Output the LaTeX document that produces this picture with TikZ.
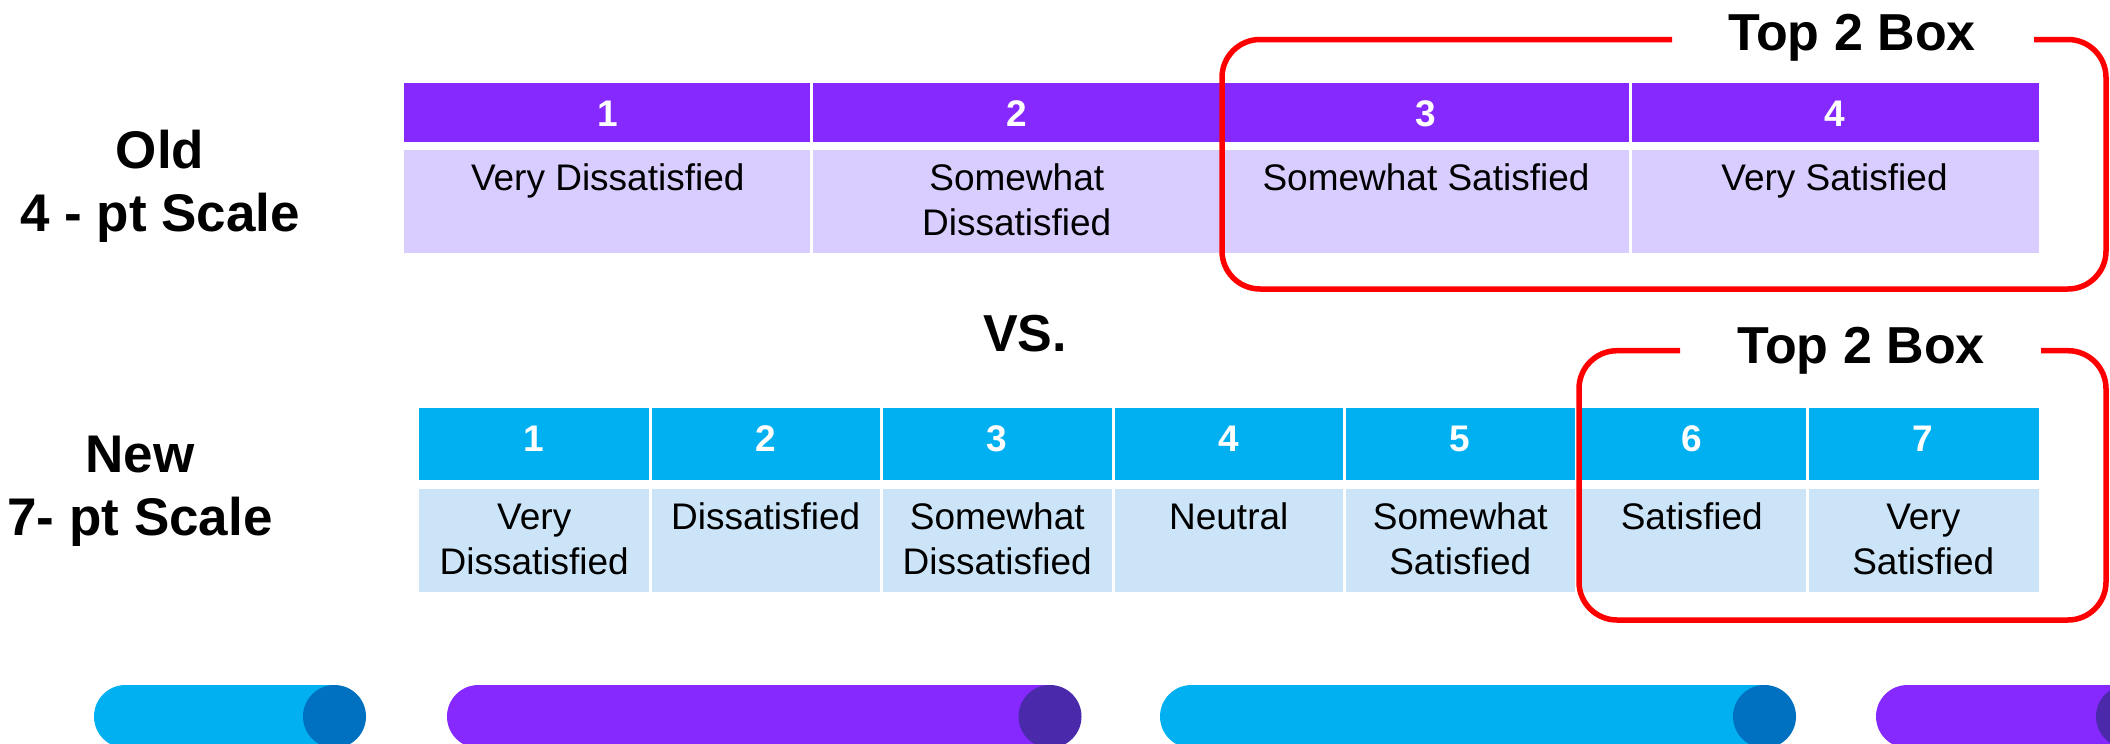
\documentclass[tikz,border=0pt]{standalone}
\usepackage{fontspec}
\setmainfont{Liberation Sans}
\newcommand\setfs[2]{\fontsize{#1}{#2}\selectfont}
\definecolor{violetH}{HTML}{8629FF}
\definecolor{violetL}{HTML}{D9CCFF}
\definecolor{violetD}{HTML}{4A2AAA}
\definecolor{cyanH}{HTML}{00B0F0}
\definecolor{cyanL}{HTML}{CCE4F8}
\definecolor{cyanD}{HTML}{0070C0}
\definecolor{redline}{HTML}{FF0000}
\tikzset{
  txt/.style={inner sep=0pt, anchor=base},
  numtxt/.style={txt, text=white, font=\setfs{37}{44}\bfseries},
  celltxt/.style={txt, text=black, font=\setfs{37}{44.5}},
  sidelabel/.style={txt, font=\setfs{53}{63}\bfseries},
  bigtxt/.style={txt, font=\setfs{52}{62}\bfseries},
  divider/.style={white, line width=3pt},
  redbox/.style={draw=redline, line width=5.5pt, rounded corners=38pt},
}
\newcommand\twoline[2]{\begin{tabular}[t]{@{}c@{}}#1\\#2\end{tabular}}
% cylinder: left x, cap centre x, body colour, cap colour
\newcommand\cylbar[4]{%
  \fill[#3] (#1+31.5,716.5) ellipse[x radius=31.5, y radius=31.5];
  \fill[#3] (#1+31.5,685) rectangle (#2,748);
  \fill[#4] (#2,716.5) ellipse[x radius=31.5, y radius=31.5];
}
\begin{document}
\begin{tikzpicture}[x=1pt, y=-1pt]
\useasboundingbox (0,0) rectangle (2110,744);
\clip (0,0) rectangle (2110,744);
\fill[white] (0,0) rectangle (2110,744);

% ---- old 4-point scale ----
\fill[violetH] (404,82.5) rectangle (2039,141.5);
\fill[violetL] (404,149.5) rectangle (2039,252.5);
\foreach \x in {811.5,1222,1630}
  \draw[divider] (\x,82.5) -- (\x,252.5);

\node[sidelabel, align=center] (oldlbl) at (160,168.3) {\twoline{Old}{4 - pt Scale}};

\node[numtxt] (o1) at (607.75,126.7) {1};
\node[numtxt] (o2) at (1016.75,126.7) {2};
\node[numtxt] (o3) at (1426,126.7) {3};
\node[numtxt] (o4) at (1834.5,126.7) {4};

\node[celltxt] (ot1) at (607.75,190.7) {Very Dissatisfied};
\node[celltxt] (ot2) at (1016.75,190.7) {\twoline{Somewhat}{Dissatisfied}};
\node[celltxt] (ot3) at (1426,190.7) {Somewhat Satisfied};
\node[celltxt] (ot4) at (1834.5,190.7) {Very Satisfied};

\draw[redbox] (1672,39.5) -- (1222,39.5) -- (1222,289) -- (2106,289) -- (2106,39.5) -- (2034,39.5);
\node[bigtxt] (top2a) at (1852,50) {Top 2 Box};

\node[bigtxt] (vs) at (1025,351) {VS.};

% ---- new 7-point scale ----
\fill[cyanH] (418.5,407.5) rectangle (2039,480);
\fill[cyanL] (418.5,488.5) rectangle (2039,591.5);
\foreach \x in {650,881.5,1113,1344.5,1576,1807.5}
  \draw[divider] (\x,407.5) -- (\x,591.5);

\node[sidelabel, align=center] (newlbl) at (140,472.7) {\twoline{New}{7- pt Scale}};

\foreach \i/\x in {1/534.25,2/765.75,3/997.25,4/1228.75,5/1460.25,6/1691.75,7/1923.25}
  \node[numtxt] (n\i) at (\x,451.7) {\i};

\node[celltxt] (nt1) at (534.25,529.5) {\twoline{Very}{Dissatisfied}};
\node[celltxt] (nt2) at (765.75,529.5) {Dissatisfied};
\node[celltxt] (nt3) at (997.25,529.5) {\twoline{Somewhat}{Dissatisfied}};
\node[celltxt] (nt4) at (1228.75,529.5) {Neutral};
\node[celltxt] (nt5) at (1460.25,529.5) {\twoline{Somewhat}{Satisfied}};
\node[celltxt] (nt6) at (1691.75,529.5) {Satisfied};
\node[celltxt] (nt7) at (1923.25,529.5) {\twoline{Very}{Satisfied}};

\draw[redbox] (1680,350.7) -- (1579,350.7) -- (1579,620) -- (2106,620) -- (2106,350.7) -- (2041,350.7);
\node[bigtxt] (top2b) at (1861,363) {Top 2 Box};

% ---- cylinders along the bottom edge ----
\cylbar{94}{334.5}{cyanH}{cyanD}
\cylbar{447}{1050}{violetH}{violetD}
\cylbar{1160}{1764.5}{cyanH}{cyanD}
\cylbar{1876}{2127.5}{violetH}{violetD}
\end{tikzpicture}
\end{document}
